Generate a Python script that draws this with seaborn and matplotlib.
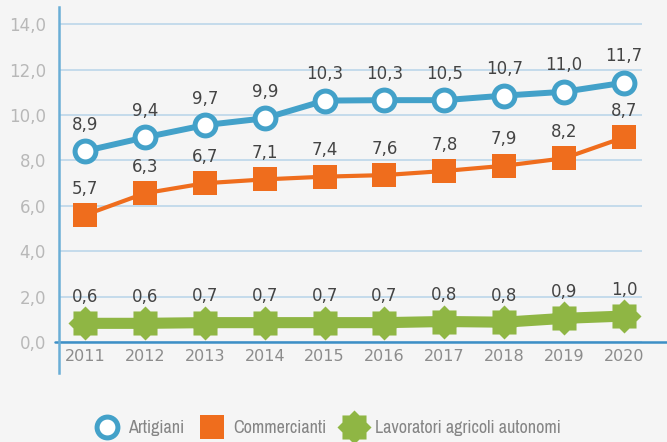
import numpy as np
import pandas as pd
import seaborn as sns
import matplotlib.pyplot as plt
from matplotlib.lines import Line2D
from matplotlib.path import Path

# dati
anni = [2011, 2012, 2013, 2014, 2015, 2016, 2017, 2018, 2019, 2020]
artigiani = [8.41, 9.01, 9.55, 9.85, 10.63, 10.65, 10.65, 10.85, 11.02, 11.42]
commercianti = [5.59, 6.55, 6.99, 7.16, 7.28, 7.35, 7.53, 7.76, 8.09, 9.01]
agricoli = [0.82, 0.82, 0.85, 0.85, 0.85, 0.85, 0.90, 0.87, 1.04, 1.14]

etich_artigiani = ["8,9", "9,4", "9,7", "9,9", "10,3", "10,3", "10,5", "10,7", "11,0", "11,7"]
etich_commercianti = ["5,7", "6,3", "6,7", "7,1", "7,4", "7,6", "7,8", "7,9", "8,2", "8,7"]
etich_agricoli = ["0,6", "0,6", "0,7", "0,7", "0,7", "0,7", "0,8", "0,8", "0,9", "1,0"]

y_ticks = [0, 2, 4, 6, 8, 10, 12, 14]
y_tick_labels = ["0,0", "2,0", "4,0", "6,0", "8,0", "10,0", "12,0", "14,0"]

BLU = "#43a1c9"
ARANCIO = "#ef6d1d"
VERDE = "#8fb644"
SFONDO = "#f5f5f5"

sns.set_style("white")
plt.rcParams['font.family'] = ['DejaVu Sans']

# stella a 8 punte (due quadrati sovrapposti)
ang = np.arange(16) * np.pi / 8
rag = np.where(np.arange(16) % 2 == 0, 1.0, 0.765)
verts = np.column_stack([rag * np.sin(ang), rag * np.cos(ang)])
verts = np.vstack([verts, verts[:1]])
stella = Path(verts, closed=True)

df = pd.DataFrame({"anno": anni, "Artigiani": artigiani,
                   "Commercianti": commercianti, "Lavoratori": agricoli})

fig = plt.figure(figsize=(6.67, 4.42), dpi=100, facecolor=SFONDO)
ax = fig.add_axes([0.0885, 0.156, 0.874, 0.828])
ax.set_facecolor(SFONDO)

sns.lineplot(data=df, x="anno", y="Lavoratori", ax=ax, color=VERDE, lw=8,
             marker=stella, markersize=24.5, markeredgewidth=0,
             markerfacecolor=VERDE, zorder=3)
sns.lineplot(data=df, x="anno", y="Commercianti", ax=ax, color=ARANCIO, lw=3,
             marker="s", markersize=17.5, markeredgewidth=0,
             markerfacecolor=ARANCIO, zorder=3)
sns.lineplot(data=df, x="anno", y="Artigiani", ax=ax, color=BLU, lw=4.3,
             marker="o", markersize=15, markeredgewidth=3.6,
             markerfacecolor="white", markeredgecolor=BLU, zorder=4)

for serie, etich in [(artigiani, etich_artigiani), (commercianti, etich_commercianti),
                     (agricoli, etich_agricoli)]:
    for x, y, t in zip(anni, serie, etich):
        ax.annotate(t, (x, y), xytext=(0, 19), textcoords="offset points",
                    ha="center", va="center", fontsize=12, color="#444444",
                    zorder=5)

ax.set_xlim(2010.566, 2020.3)
ax.set_ylim(-1.37, 14.75)
ax.set_yticks(y_ticks)
ax.set_yticklabels(y_tick_labels)
ax.set_xticks(anni)
ax.set_xticklabels([str(a) for a in anni])
ax.tick_params(axis="y", length=0, pad=9.4, labelsize=12, labelcolor="#b8b8b8")
ax.tick_params(axis="x", length=0, pad=-17.5, labelsize=11.5, labelcolor="#8c8c8c")
ax.set_xlabel("")
ax.set_ylabel("")

ax.yaxis.grid(True, color="#bcd6ea", lw=1.2)
ax.set_axisbelow(True)
for s in ["top", "right", "bottom"]:
    ax.spines[s].set_visible(False)
ax.spines["left"].set_color("#6aaed6")
ax.spines["left"].set_linewidth(1.8)
ax.axhline(0, xmin=-0.007, xmax=1.05, color="#3d8fc6", lw=1.8, clip_on=False, zorder=2)

handles = [
    Line2D([], [], ls="none", marker="o", markersize=15, markeredgewidth=3.6,
           markerfacecolor="white", markeredgecolor=BLU),
    Line2D([], [], ls="none", marker="s", markersize=17.5, markeredgewidth=0,
           markerfacecolor=ARANCIO),
    Line2D([], [], ls="none", marker=stella, markersize=24.5, markeredgewidth=0,
           markerfacecolor=VERDE),
]
fig.legend(handles, ["Artigiani", "Commercianti", "Lavoratori agricoli autonomi"],
           loc="center", bbox_to_anchor=(0.4925, 0.032), ncol=3, frameon=False,
           handlelength=1.2, handletextpad=0.6, columnspacing=0.9,
           prop={"family": ["Archivo Narrow", "DejaVu Sans"], "size": 13},
           labelcolor="#858585")

fig.savefig("out.png", dpi=100, facecolor=SFONDO)
